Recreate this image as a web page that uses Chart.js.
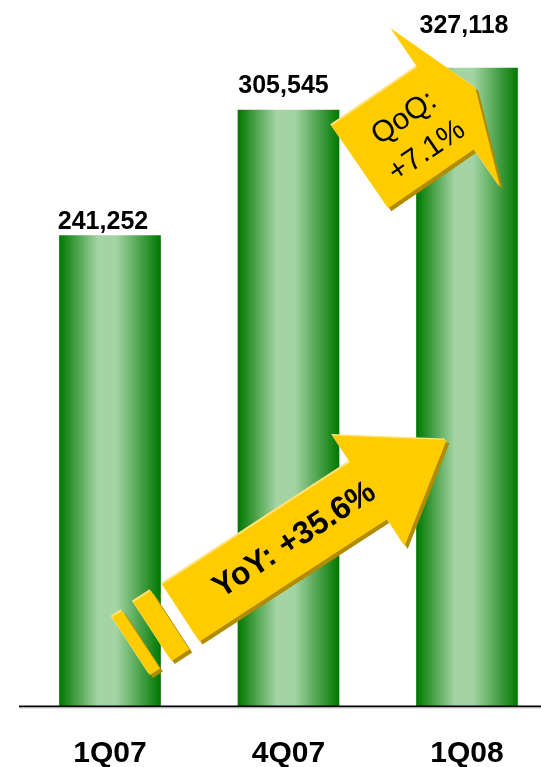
<!DOCTYPE html>
<html>
<head>
<meta charset="utf-8">
<script src="https://cdn.jsdelivr.net/npm/chart.js@4.4.0/dist/chart.umd.min.js"></script>
<style>
  html, body { margin: 0; padding: 0; background: #fff; }
</style>
</head>
<body>
<canvas id="revenueChart" width="541" height="767"></canvas>
<script>
// quarterly figures
const quarters = ['1Q07', '4Q07', '1Q08'];
const revenue = [241252, 305545, 327118];
const axisMax = 360000;

const yoyText = 'YoY: +35.6%';
const qoqText = ['QoQ:', '+7.1%'];

const FONT = '"Liberation Sans", Arial, sans-serif';
const BAR_WIDTH = 101;

// green cylinder look: dark edges, pale middle
function barGradient(context) {
    const chart = context.chart;
    const xScale = chart.scales.x;
    if (!xScale || context.dataIndex === undefined) return '#52a852';
    const cx = xScale.getPixelForValue(context.dataIndex);
    if (!Number.isFinite(cx)) return '#52a852';
    const g = chart.ctx.createLinearGradient(cx - BAR_WIDTH / 2, 0, cx + BAR_WIDTH / 2, 0);
    g.addColorStop(0, '#007800');
    g.addColorStop(0.38, '#a4d4a4');
    g.addColorStop(0.56, '#a4d4a4');
    g.addColorStop(1, '#007800');
    return g;
}

// block arrow pieces given in arrow-local coords (u along the arrow, v across it)
function drawArrow(ctx, ox, oy, angleDeg, pieces) {
    const a = angleDeg * Math.PI / 180;
    const c = Math.cos(a), s = Math.sin(a);
    const toScreen = (p) => [ox + p[0] * c - p[1] * s, oy + p[0] * s + p[1] * c];
    const fillPiece = (pts, dx, dy, color) => {
        ctx.beginPath();
        pts.forEach((p, i) => {
            const q = toScreen(p);
            if (i === 0) ctx.moveTo(q[0] + dx, q[1] + dy);
            else ctx.lineTo(q[0] + dx, q[1] + dy);
        });
        ctx.closePath();
        ctx.fillStyle = color;
        ctx.fill();
    };
    pieces.forEach(pts => fillPiece(pts, 3, 3, '#b08c00'));
    pieces.forEach(pts => fillPiece(pts, -1.5, -1.5, '#ffe27a'));
    pieces.forEach(pts => fillPiece(pts, 0, 0, '#ffcc00'));
}

function drawRotatedText(ctx, ox, oy, angleDeg, u, v, text, font) {
    ctx.save();
    ctx.translate(ox, oy);
    ctx.rotate(angleDeg * Math.PI / 180);
    ctx.font = font;
    ctx.fillStyle = '#000';
    ctx.textAlign = 'center';
    ctx.textBaseline = 'middle';
    ctx.fillText(text, u, v);
    ctx.restore();
}

const overlayPlugin = {
    id: 'overlay',
    afterDatasetsDraw(chart) {
        const ctx = chart.ctx;
        const area = chart.chartArea;
        ctx.save();

        // baseline
        ctx.fillStyle = '#000';
        ctx.fillRect(19, area.bottom - 0.5, chart.width - 19, 2);
        ctx.fillStyle = '#d4d4d4';
        ctx.fillRect(19, area.bottom + 1.5, chart.width - 19, 1);

        // year-over-year arrow with its broken tail
        drawArrow(ctx, 181, 613, -33.1, [
            [[0, -34], [224, -34], [224, -66], [317, 0], [224, 66], [224, 34], [0, 34]],
            [[-34, -35], [-13, -35], [-13, 35], [-34, 35]],
            [[-60, -34], [-48, -34], [-48, 35], [-60, 35]]
        ]);
        drawRotatedText(ctx, 181, 613, -33.1, 135, 1, yoyText, 'bold 32px ' + FONT);

        // quarter-over-quarter arrow
        drawArrow(ctx, 360, 167, -34.5, [
            [[0, -50], [104, -50], [104, -96], [140, 0], [104, 96], [104, 50], [0, 50]]
        ]);
        drawRotatedText(ctx, 360, 167, -34.5, 64, -15, qoqText[0], '30px ' + FONT);
        drawRotatedText(ctx, 360, 167, -34.5, 64, 25, qoqText[1], '30px ' + FONT);

        // value labels above the bars; the last one sits higher to clear the arrow
        const shiftX = [-7, -5, -3];
        const gapY = [7, 17, 35];
        const meta = chart.getDatasetMeta(0);
        ctx.font = 'bold 25px ' + FONT;
        ctx.fillStyle = '#000';
        ctx.textAlign = 'center';
        ctx.textBaseline = 'alphabetic';
        meta.data.forEach((bar, i) => {
            ctx.fillText(revenue[i].toLocaleString('en-US'), bar.x + shiftX[i], bar.y - gapY[i]);
        });

        ctx.restore();
    }
};

new Chart(document.getElementById('revenueChart'), {
    type: 'bar',
    data: {
        labels: quarters,
        datasets: [{
            data: revenue,
            backgroundColor: barGradient,
            borderWidth: 0,
            barThickness: BAR_WIDTH,
            clip: false
        }]
    },
    options: {
        responsive: false,
        animation: false,
        layout: { padding: { left: 110, right: 74, top: 4, bottom: 0 } },
        plugins: {
            legend: { display: false },
            tooltip: { enabled: false }
        },
        scales: {
            x: {
                offset: false,
                grid: { display: false, drawTicks: false },
                border: { display: false },
                ticks: {
                    color: '#000',
                    padding: 30,
                    maxRotation: 0,
                    font: { family: FONT, size: 30, weight: 'bold', lineHeight: 1.2 }
                },
                afterFit(scale) { scale.height = 61; }
            },
            y: {
                display: false,
                min: 0,
                max: axisMax
            }
        }
    },
    plugins: [overlayPlugin]
});
</script>
</body>
</html>
